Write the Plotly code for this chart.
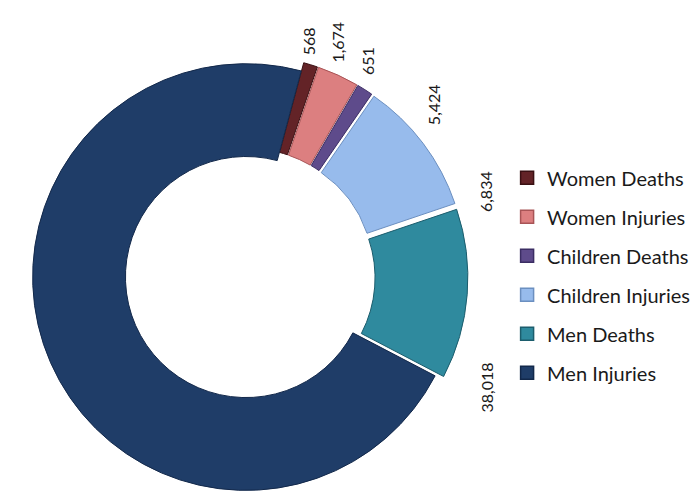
import math
import plotly.graph_objects as go

# ---- data ----
categories = ["Women Deaths", "Women Injuries", "Children Deaths",
              "Children Injuries", "Men Deaths", "Men Injuries"]
values = [568, 1674, 651, 5424, 6834, 38018]
value_labels = [f"{v:,}" for v in values]

# ---- style ----
colors = ["#632327", "#dc7f80", "#5e4b8b", "#97bbec", "#2f8a9e", "#1f3d68"]
edges = ["#3a1013", "#a85456", "#3b2d63", "#6b8fc0", "#1c5d6d", "#12284a"]
pulls = [0.04, 0.04, 0.04, 0.04, 0.04, 0.0]

W, H = 700, 495
start_deg = 15
hole = 0.565
dom_x = [0.023, 0.657]
dom_y = [0.008, 0.905]
label_fs = 16
legend_fs = 20
font_family = "Lato"

fig = go.Figure()
fig.add_trace(go.Pie(
    labels=categories, values=values, sort=False, direction="clockwise",
    rotation=start_deg, hole=hole, pull=pulls,
    marker=dict(colors=colors, line=dict(color=edges, width=1)),
    textinfo="none", hoverinfo="label+value", showlegend=False,
    domain=dict(x=dom_x, y=dom_y),
))

# legend entries (one per category, spaced like the original)
for name, c, e in zip(categories, colors, edges):
    fig.add_trace(go.Scatter(
        x=[None], y=[None], mode="markers", name=name, legendgroup=name,
        marker=dict(symbol="square", size=13, color=c, line=dict(color=e, width=1.5)),
        hoverinfo="skip",
    ))

# ---- value labels, positioned from the slice geometry ----
box_w = (dom_x[1] - dom_x[0]) * W
box_h = (dom_y[1] - dom_y[0]) * H
r = min(box_w, box_h) / (2 + 2 * max(pulls))
cx = (dom_x[0] + dom_x[1]) / 2 * W
cy = H - (dom_y[0] + dom_y[1]) / 2 * H
total = sum(values)

def text_len(s):
    return sum(0.29 if ch == "," else 0.58 for ch in s) * label_fs

cum = 0.0
annotations = []
for v, lab in zip(values, value_labels):
    width = v / total * 360.0
    start = start_deg + cum / total * 360.0
    cum += v
    # narrow slices: label near the middle; wide slices: near the leading edge
    a = start + width / 2 - 3 if width < 40 else start + 3
    a = min(a, 110)
    rc = r * (1 + max(pulls)) + 4 + 0.2 * a
    ax = cx + rc * math.sin(math.radians(a))
    ay = cy - rc * math.cos(math.radians(a))
    L = text_len(lab)
    wbox = 0.9 * label_fs
    px = ax + wbox / 2
    py = ay - L / 2 if a < 90 else ay + L / 2
    annotations.append(dict(
        x=px / W, y=1 - py / H, xref="paper", yref="paper",
        text=lab, textangle=-90, showarrow=False,
        xanchor="center", yanchor="middle",
        font=dict(size=label_fs, color="#1a1a1a", family=font_family),
    ))

fig.update_layout(
    width=W, height=H, margin=dict(l=0, r=0, t=0, b=0, autoexpand=False),
    paper_bgcolor="white", plot_bgcolor="white",
    xaxis=dict(visible=False), yaxis=dict(visible=False),
    annotations=annotations,
    legend=dict(x=0.713, y=0.46, xanchor="left", yanchor="middle",
                tracegroupgap=10, font=dict(size=legend_fs, color="#1a1a1a",
                                            family=font_family)),
    font=dict(family=font_family),
)

fig.write_html("out.html")
